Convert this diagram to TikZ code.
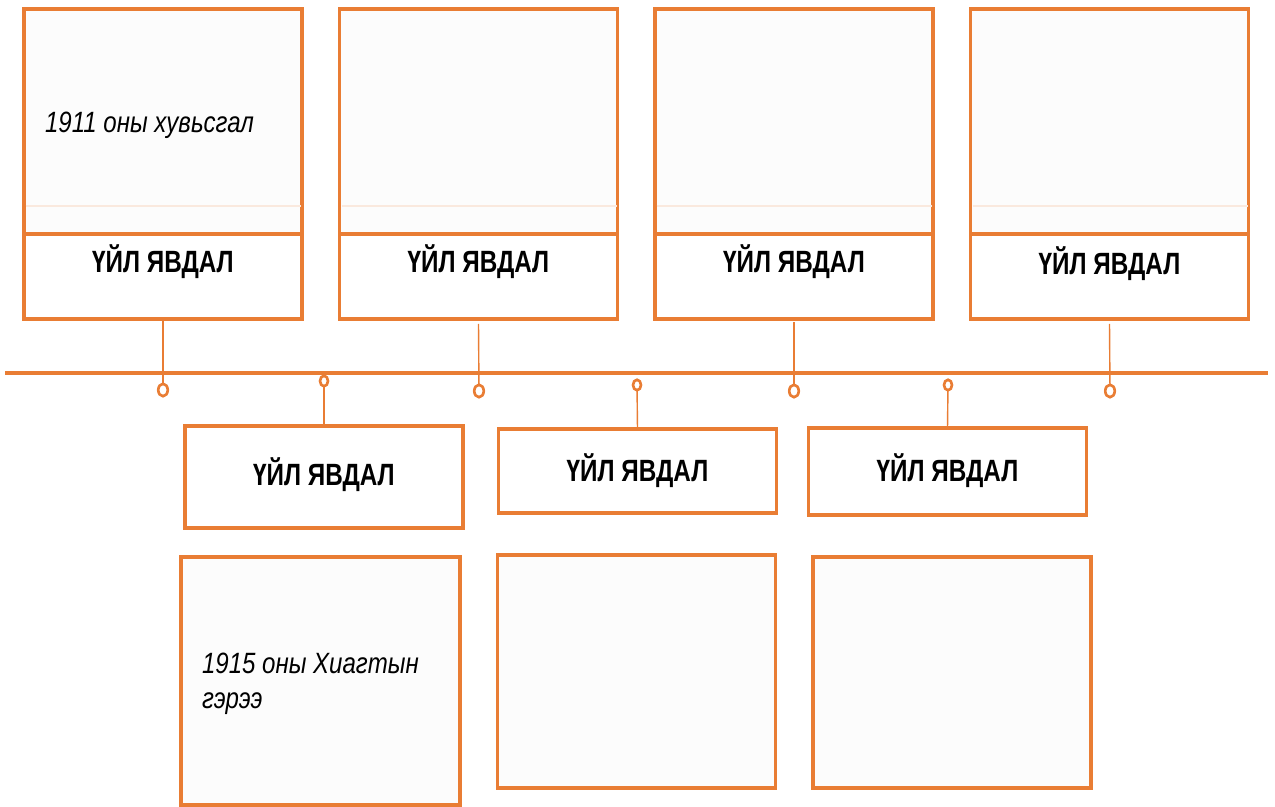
\documentclass[tikz,border=0pt]{standalone}
\usepackage{fontspec}
\usetikzlibrary{shapes.geometric}
\setmainfont{Liberation Sans}
\newfontfamily\evfont[FakeStretch=0.79]{Liberation Sans}
\newfontfamily\notefont[FakeStretch=0.82]{Liberation Sans}
\definecolor{evorange}{RGB}{233,125,52}
\definecolor{paper}{RGB}{252,252,252}
\definecolor{peach}{RGB}{250,233,222}

\begin{document}
\begin{tikzpicture}[x=0.02cm,y=-0.02cm]
	\tikzstyle{every node} = [inner sep=0pt,outer sep=0pt]
	\tikzstyle{frame} = [draw=evorange,line width=1.8pt,fill=paper]
	\tikzstyle{topbox} = [frame,anchor=south,minimum width=5.56cm,minimum height=6.2cm]
	\tikzstyle{topstrip} = [frame,fill=white,anchor=south,minimum width=5.56cm,minimum height=1.7cm]
	\tikzstyle{evtitle} = [frame,fill=white,minimum width=5.56cm]
	\tikzstyle{notebox} = [frame,minimum width=5.56cm]
	\tikzstyle{evlabel} = [anchor=base,font=\evfont\bfseries\fontsize{17.5}{20}\selectfont]
	\tikzstyle{note} = [anchor=base west,align=left,font=\notefont\itshape\fontsize{16.7}{19.9}\selectfont]
	\tikzstyle{dot} = [ellipse,draw=evorange,line width=1.5pt,fill=white,minimum width=0.19cm,minimum height=0.25cm]
	\tikzstyle{smalldot} = [dot,minimum width=0.16cm,minimum height=0.21cm]
	\tikzstyle{stem} = [draw=evorange,line width=0.8pt]
	\useasboundingbox (0,0) rectangle (1275,807);

	% timeline
	\coordinate (tl) at (5,373);
	\coordinate (tr) at (1268,373);
	\draw [evorange,line width=2.2pt] (tl) -- (tr);

	% upper events
	\node [topbox] (top1) at (163,319) {};
	\node [topbox] (top2) at (478.5,319) {};
	\node [topbox] (top3) at (794,319) {};
	\node [topbox] (top4) at (1109.5,319) {};
	\foreach \x in {24,340,655,971}
		\draw [peach,line width=1.4pt] (\x+1.5,206) -- ++(275,0);
	\node [topstrip] (strip1) at (163,319) {};
	\node [topstrip] (strip2) at (478.5,319) {};
	\node [topstrip] (strip3) at (794,319) {};
	\node [topstrip] (strip4) at (1109.5,319) {};
	\node [evlabel] (lab1) at (163,273) {ҮЙЛ ЯВДАЛ};
	\node [evlabel] (lab2) at (478.5,273) {ҮЙЛ ЯВДАЛ};
	\node [evlabel] (lab3) at (794,273) {ҮЙЛ ЯВДАЛ};
	\node [evlabel] (lab4) at (1109.5,275) {ҮЙЛ ЯВДАЛ};
	\node [note] (note1) at (45,133) {1911 оны хувьсгал};

	\node [dot] (c1) at (163,390) {};
	\node [dot] (c2) at (479,391) {};
	\node [dot] (c3) at (794,391) {};
	\node [dot] (c4) at (1110,391) {};
	\draw [stem] (top1.south) ++(0,2) -- (c1);
	\draw [stem] (top2.south) ++(0,5) -- (c2);
	\draw [stem] (top3.south) ++(0,3) -- (c3);
	\draw [stem] (top4.south) ++(0,5) -- (c4);

	% lower events
	\node [evtitle,minimum height=2.04cm] (bot1) at (324,477) {};
	\node [evtitle,minimum height=1.68cm] (bot2) at (637.5,471) {};
	\node [evtitle,minimum height=1.74cm] (bot3) at (947.5,471.5) {};
	\node [evlabel] (blab1) at (324,485) {ҮЙЛ ЯВДАЛ};
	\node [evlabel] (blab2) at (637.5,481) {ҮЙЛ ЯВДАЛ};
	\node [evlabel] (blab3) at (947.5,481) {ҮЙЛ ЯВДАЛ};

	\node [smalldot] (c5) at (324,381) {};
	\node [smalldot] (c6) at (637,385) {};
	\node [smalldot] (c7) at (948,385) {};
	\draw [stem] (c5) -- (bot1.north);
	\draw [stem] (c6) -- (bot2.north);
	\draw [stem] (c7) -- (bot3.north);

	\node [notebox,minimum width=5.58cm,minimum height=4.96cm] (box1) at (320.5,681) {};
	\node [notebox,minimum height=4.66cm] (box2) at (636.5,671.5) {};
	\node [notebox,minimum height=4.62cm] (box3) at (952,672.5) {};
	\node [note] (note2) at (202,708) {1915 оны Хиагтын\\гэрээ};
\end{tikzpicture}
\end{document}
